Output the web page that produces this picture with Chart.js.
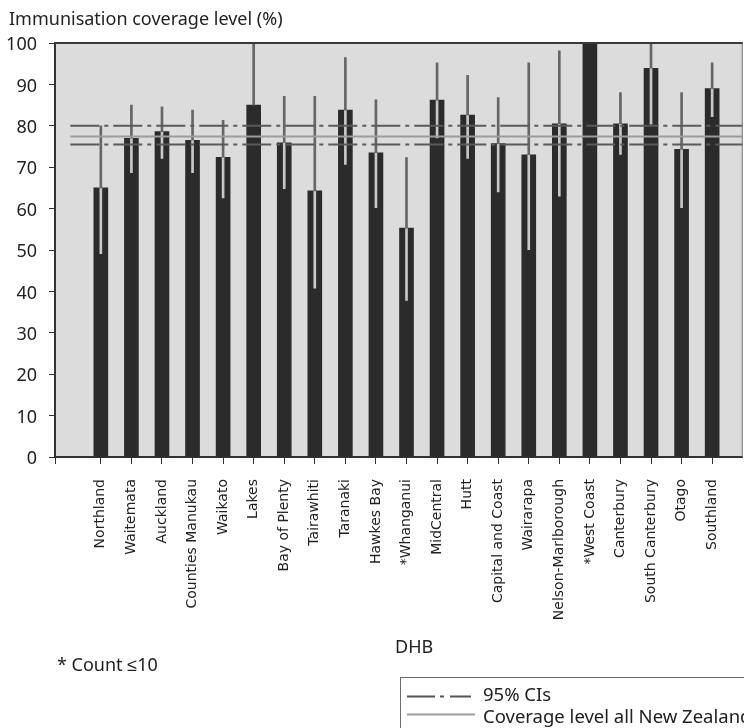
<!DOCTYPE html>
<html>
<head>
<meta charset="utf-8">
<script src="https://cdn.jsdelivr.net/npm/chart.js@4.4.1/dist/chart.umd.min.js"></script>
<style>
  body{margin:0;background:#fff;}
  #wrap{position:relative;width:744px;height:728px;overflow:hidden;font-family:'Noto Sans',sans-serif;color:#222;}
  #chart{position:absolute;left:0;top:0;}
  .txt{position:absolute;white-space:nowrap;font-size:18px;line-height:1;}
  #legendBox{position:absolute;left:400px;top:677px;width:400px;height:80px;border:1px solid #6a6a6a;box-sizing:border-box;}
  .swatch{position:absolute;}
</style>
</head>
<body>
<div id="wrap">
  <canvas id="chart" width="744" height="728"></canvas>
  <div class="txt" style="left:9px;top:9px">Immunisation coverage level (%)</div>
  <div class="txt" style="left:395px;top:637px">DHB</div>
  <div class="txt" style="left:57px;top:655px">* Count ≤10</div>
  <div id="legendBox"></div>
  <svg class="swatch" style="left:407px;top:694px" width="70" height="5"><line x1="0" y1="2.5" x2="64" y2="2.5" stroke="#555" stroke-width="2" stroke-dasharray="28 5 4 6"/></svg>
  <div class="txt" style="left:483px;top:685px;font-size:18.5px">95% CIs</div>
  <svg class="swatch" style="left:407px;top:712px" width="70" height="5"><line x1="0" y1="2.5" x2="68" y2="2.5" stroke="#9c9c9c" stroke-width="2"/></svg>
  <div class="txt" style="left:483px;top:707px;font-size:18.5px">Coverage level all New Zealand</div>
</div>
<script>
const dhbs = ['Northland','Waitemata','Auckland','Counties Manukau','Waikato','Lakes','Bay of Plenty','Tairawhiti','Taranaki','Hawkes Bay','*Whanganui','MidCentral','Hutt','Capital and Coast','Wairarapa','Nelson-Marlborough','*West Coast','Canterbury','South Canterbury','Otago','Southland'];
const coverage = [65.0, 77.0, 78.6, 76.5, 72.4, 85.0, 75.9, 64.3, 83.8, 73.5, 55.3, 86.2, 82.6, 75.7, 73.0, 80.5, 100, 80.5, 93.9, 74.3, 89.0];
const ciLower = [49.1, 68.7, 72.1, 68.7, 62.6, 85.0, 64.8, 40.8, 70.7, 60.2, 37.8, 77.1, 72.1, 64.0, 50.1, 63.0, 100, 73.1, 80.4, 60.2, 82.2];
const ciUpper = [80.0, 85.0, 84.6, 83.8, 81.3, 100, 87.1, 87.1, 96.5, 86.3, 72.3, 95.2, 92.2, 86.8, 95.2, 98.1, 100, 88.0, 100, 88.0, 95.2];
const nzCoverage = 77.4;
const nzCiLower = 75.5;
const nzCiUpper = 80.0;
const yTicks = [0, 10, 20, 30, 40, 50, 60, 70, 80, 90, 100];

// position 0 is the empty slot before Northland
const xMin = -0.5, xMax = 22;
const pts = (arr) => arr.map((v, i) => ({ x: i + 1, y: v }));

const ciAbove = dhbs.map((_, i) => ciUpper[i] > coverage[i] ? { x: i + 1, y: [Math.max(ciLower[i], coverage[i]), ciUpper[i]] } : null).filter(Boolean);
const ciInside = dhbs.map((_, i) => ciLower[i] < coverage[i] ? { x: i + 1, y: [ciLower[i], Math.min(ciUpper[i], coverage[i])] } : null).filter(Boolean);
const hline = (v) => [{ x: 0, y: v }, { x: xMax, y: v }];

const plotFrame = {
  id: 'plotFrame',
  beforeDraw(chart){
    const { ctx, chartArea: a } = chart;
    ctx.save();
    ctx.fillStyle = '#dcdcdc';
    ctx.fillRect(a.left, a.top, a.right - a.left, a.bottom - a.top);
    ctx.restore();
  },
  afterDraw(chart){
    const { ctx, chartArea: a } = chart;
    ctx.save();
    ctx.strokeStyle = '#777';
    ctx.lineWidth = 1;
    ctx.beginPath(); ctx.moveTo(a.right - 0.5, a.top); ctx.lineTo(a.right - 0.5, a.bottom); ctx.stroke();
    ctx.strokeStyle = '#3a3a3a';
    ctx.lineWidth = 2;
    ctx.beginPath(); ctx.moveTo(a.left, a.top); ctx.lineTo(a.right, a.top); ctx.stroke();
    ctx.restore();
  }
};

new Chart(document.getElementById('chart'), {
  type: 'bar',
  data: {
    datasets: [
      { type: 'line', data: hline(nzCiUpper), borderColor: '#5a5a5a', borderWidth: 2, borderDash: [29, 5, 4, 5], pointRadius: 0, order: 0 },
      { type: 'line', data: hline(nzCiLower), borderColor: '#5a5a5a', borderWidth: 2, borderDash: [29, 5, 4, 5], pointRadius: 0, order: 0 },
      { type: 'line', data: hline(nzCoverage), borderColor: '#9c9c9c', borderWidth: 2, pointRadius: 0, order: 0 },
      { data: ciAbove, backgroundColor: '#666', barThickness: 2, grouped: false, order: 1 },
      { data: ciInside, backgroundColor: '#c8c8c8', barThickness: 2, grouped: false, order: 1 },
      { data: pts(coverage), backgroundColor: '#2b2b2b', barThickness: 14, grouped: false, order: 2 }
    ]
  },
  options: {
    responsive: false,
    animation: false,
    devicePixelRatio: 1,
    layout: { padding: { top: 43, right: 1, left: 0, bottom: 0 } },
    plugins: { legend: { display: false }, tooltip: { enabled: false } },
    scales: {
      x: {
        type: 'linear', min: xMin, max: xMax, offset: false,
        afterBuildTicks: s => { s.ticks = [xMin, ...dhbs.map((_, i) => i + 1)].map(v => ({ value: v })); },
        afterFit: s => { s.height = 271; },
        ticks: {
          autoSkip: false, maxRotation: 90, minRotation: 90, padding: 15,
          color: '#222', font: { family: 'DejaVu Sans', size: 14 },
          callback: v => dhbs[v - 1] || ''
        },
        grid: { offset: false, drawOnChartArea: false, tickLength: 7, color: '#333' },
        border: { color: '#333', width: 2 }
      },
      y: {
        min: 0, max: 100,
        afterBuildTicks: s => { s.ticks = yTicks.map(v => ({ value: v })); },
        afterFit: s => { s.width = 55; },
        ticks: { padding: 12, labelOffset: 2, color: '#222', font: { family: 'Noto Sans', size: 18 } },
        grid: { drawOnChartArea: false, tickLength: 6, color: '#333' },
        border: { color: '#333', width: 2 }
      }
    }
  },
  plugins: [plotFrame]
});
</script>
</body>
</html>
